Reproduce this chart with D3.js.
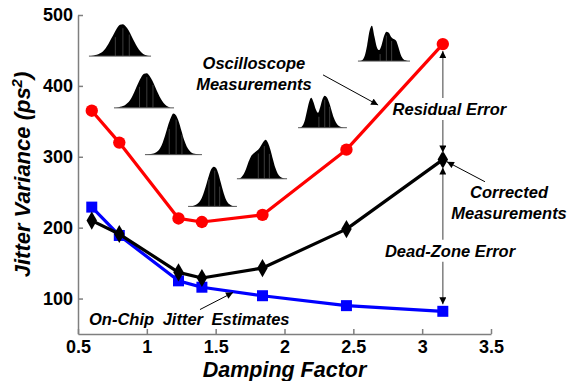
<!DOCTYPE html>
<html>
<head>
<meta charset="utf-8">
<script src="https://cdn.jsdelivr.net/npm/d3@7"></script>
<style>
  html, body { margin: 0; padding: 0; background: #fff; }
  svg { display: block; font-family: "Liberation Sans", Arial, sans-serif; }
</style>
</head>
<body>
<div id="chart"></div>
<script>
// damping factor of each measured loop
const dampingFactor = [0.6, 0.8, 1.23, 1.4, 1.84, 2.45, 3.15];
// jitter variance (ps^2)
const scopeValues = [365, 320, 213, 208, 218, 310, 459];
const correctedValues = [210, 191, 137, 129, 143, 198, 296];
const onChipValues = [229, 189, 125, 116, 104, 90, 82];

const xTicks = [0.5, 1, 1.5, 2, 2.5, 3, 3.5];
const yTicks = [100, 200, 300, 400, 500];

// scope histogram shapes (relative bin heights), one per inset
const hist1 = [0, .02, .04, .08, .14, .24, .38, .55, .72, .88, .98, 1, .93, .8, .62, .44, .28, .15, .07, .03, 0];
const hist2 = [0, .02, .04, .07, .13, .22, .36, .54, .72, .88, .98, 1, .92, .78, .6, .42, .26, .14, .06, .02, 0];
const hist3 = [0, .01, .02, .04, .08, .16, .3, .5, .72, .9, 1, .95, .8, .58, .36, .2, .1, .04, .02, .01, 0];
const hist4 = [0, .01, .03, .06, .12, .22, .38, .58, .78, .94, 1, .97, .82, .6, .38, .2, .09, .04, .01, 0];
const hist5 = [0, .04, .12, .26, .44, .58, .65, .7, .75, .84, .94, 1, .92, .74, .5, .28, .13, .05, .02, 0];
const hist6 = [0, .05, .2, .5, .8, .94, .8, .58, .47, .65, .9, 1, .95, .78, .55, .32, .16, .07, .03, .01, 0];
const hist7 = [0, .03, .15, .45, .85, 1, .7, .4, .31, .45, .7, .83, .8, .68, .62, .58, .4, .18, .06, .02, 0];

const width = 570, height = 381;
const margin = { top: 15, right: 79, bottom: 47, left: 78 };

const svg = d3.select('#chart').append('svg')
    .attr('width', width)
    .attr('height', height);

svg.append('rect').attr('width', width).attr('height', height).attr('fill', '#fff');

const x = d3.scaleLinear().domain([0.5, 3.5]).range([margin.left, width - margin.right]);
const y = d3.scaleLinear().domain([50, 500]).range([height - margin.bottom, margin.top]);

const axisGray = '#7f7f7f';

// axes (ticks point inward)
const xAxis = svg.append('g')
    .attr('transform', 'translate(0,' + y(50) + ')')
    .call(d3.axisBottom(x).tickValues(xTicks).tickFormat(d3.format('')).tickSize(-5).tickSizeOuter(0).tickPadding(6));
const yAxis = svg.append('g')
    .attr('transform', 'translate(' + x(0.5) + ',0)')
    .call(d3.axisLeft(y).tickValues(yTicks).tickSize(-5).tickSizeOuter(0).tickPadding(5));

[xAxis, yAxis].forEach(a => {
    a.select('.domain').attr('stroke', axisGray).attr('stroke-width', 1.5);
    a.selectAll('.tick line').attr('stroke', axisGray).attr('stroke-width', 1.5);
    a.selectAll('.tick text')
        .attr('fill', '#000')
        .style('font-size', '18px')
        .style('font-weight', 'bold')
        .style('font-family', '"Liberation Sans", Arial, sans-serif');
});

// axis titles
svg.append('text')
    .attr('x', x(2))
    .attr('y', 376.5)
    .attr('text-anchor', 'middle')
    .style('font-size', '21.5px')
    .style('font-weight', 'bold')
    .style('font-style', 'italic')
    .text('Damping Factor');

const yTitle = svg.append('text')
    .attr('transform', 'translate(30,' + y(275) + ') rotate(-90)')
    .attr('text-anchor', 'middle')
    .style('font-size', '22px')
    .style('font-weight', 'bold')
    .style('font-style', 'italic');
yTitle.append('tspan').text('Jitter Variance (ps');
yTitle.append('tspan').attr('dy', -8).style('font-size', '15px').text('2');
yTitle.append('tspan').attr('dy', 8).text(')');

// histogram insets: [x start, x end, baseline, top] in data units
const insets = [
    { shape: hist1, box: [0.594, 1.016, 442, 487] },
    { shape: hist2, box: [0.776, 1.183, 369, 418] },
    { shape: hist3, box: [1.001, 1.386, 303, 361] },
    { shape: hist4, box: [1.314, 1.640, 230, 286] },
    { shape: hist5, box: [1.669, 2.004, 269, 324] },
    { shape: hist6, box: [2.113, 2.439, 341, 386] },
    { shape: hist7, box: [2.548, 2.897, 435, 485] }
];

insets.forEach(h => {
    const [x0, x1, b, t] = h.box;
    const hx = d3.scaleLinear().domain([0, h.shape.length - 1]).range([x(x0), x(x1)]);
    const hy = d3.scaleLinear().domain([0, 1]).range([y(b), y(t)]);
    const g = svg.append('g');
    g.append('path')
        .datum(h.shape)
        .attr('fill', '#000')
        .attr('d', d3.area().x((d, i) => hx(i)).y0(y(b)).y1(d => hy(d)).curve(d3.curveMonotoneX));
    // faint bin separators
    [0.42, 0.55, 0.66].forEach(f => {
        const i = f * (h.shape.length - 1);
        g.append('line')
            .attr('x1', hx(i)).attr('x2', hx(i))
            .attr('y1', y(b)).attr('y2', hy(h.shape[Math.round(i)]) + 4)
            .attr('stroke', '#666').attr('stroke-width', 0.6);
    });
    g.append('line')
        .attr('x1', hx(0) - 2).attr('x2', hx(h.shape.length - 1) + 2)
        .attr('y1', y(b)).attr('y2', y(b))
        .attr('stroke', '#555').attr('stroke-width', 1);
});

// arrow markers
const defs = svg.append('defs');
defs.append('marker')
    .attr('id', 'head')
    .attr('viewBox', '0 0 10 10')
    .attr('refX', 10).attr('refY', 5)
    .attr('markerWidth', 9).attr('markerHeight', 7)
    .attr('markerUnits', 'userSpaceOnUse')
    .attr('orient', 'auto-start-reverse')
    .append('path').attr('d', 'M0,0L10,5L0,10z').attr('fill', '#000');

// series
const series = [
    { values: scopeValues, color: '#ff0000', symbol: 'circle' },
    { values: correctedValues, color: '#000000', symbol: 'diamond' },
    { values: onChipValues, color: '#0000ff', symbol: 'square' }
];

const line = d3.line().x(d => x(d[0])).y(d => y(d[1]));

// draw blue, red then black on top
[series[2], series[0], series[1]].forEach(s => {
    const pts = dampingFactor.map((d, i) => [d, s.values[i]]);
    svg.append('path')
        .datum(pts)
        .attr('fill', 'none')
        .attr('stroke', s.color)
        .attr('stroke-width', 3.2)
        .attr('stroke-linejoin', 'round')
        .attr('d', line);
    const sym = s.symbol === 'circle' ? d3.symbol(d3.symbolCircle, 120)
        : s.symbol === 'diamond' ? d3.symbol(d3.symbolDiamond, 95)
        : d3.symbol(d3.symbolSquare, 121);
    svg.append('g').selectAll('path')
        .data(pts)
        .enter().append('path')
        .attr('transform', d => 'translate(' + x(d[0]) + ',' + y(d[1]) + ')')
        .attr('d', sym)
        .attr('fill', s.color);
});

// annotation text
function note(lines, xv, yv, anchor) {
    const t = svg.append('text')
        .attr('text-anchor', anchor || 'middle')
        .style('font-size', '16.5px')
        .style('font-weight', 'bold')
        .style('font-style', 'italic');
    lines.forEach((l, i) => {
        t.append('tspan').attr('x', x(xv)).attr('y', y(yv) + i * 21).text(l);
    });
    return t;
}

note(['Oscilloscope', 'Measurements'], 1.778, 424);
const residual = note(['Residual Error'], 3.198, 359);
note(['Corrected', 'Measurements'], 3.631, 242);
const deadZone = note(['Dead-Zone Error'], 3.202, 159);
note(['On-Chip  Jitter  Estimates'], 0.58, 62, 'start').style('word-spacing', '4px');

// pointer arrows
function pointer(x1, y1, x2, y2) {
    svg.append('line')
        .attr('x1', x(x1)).attr('y1', y(y1))
        .attr('x2', x(x2)).attr('y2', y(y2))
        .attr('stroke', '#000').attr('stroke-width', 1)
        .attr('marker-end', 'url(#head)');
}
pointer(2.280, 415.5, 2.680, 373);
pointer(3.456, 264.8, 3.180, 293);
pointer(1.386, 84.5, 1.626, 108.5);

// vertical error arrows at the last damping factor, broken around labels
const last = dampingFactor.length - 1;
const ax = x(dampingFactor[last]);
function errorArrow(topPx, bottomPx, label) {
    const bb = label.node().getBBox();
    const gapTop = bb.y - 2, gapBottom = bb.y + bb.height + 2;
    svg.append('line')
        .attr('x1', ax).attr('x2', ax)
        .attr('y1', gapTop).attr('y2', topPx)
        .attr('stroke', axisGray).attr('stroke-width', 1.5)
        .attr('marker-end', 'url(#head)');
    svg.append('line')
        .attr('x1', ax).attr('x2', ax)
        .attr('y1', gapBottom).attr('y2', bottomPx)
        .attr('stroke', axisGray).attr('stroke-width', 1.5)
        .attr('marker-end', 'url(#head)');
}
errorArrow(y(scopeValues[last]) + 7, y(correctedValues[last]) - 7, residual);
errorArrow(y(correctedValues[last]) + 8, y(onChipValues[last]) - 7, deadZone);
</script>
</body>
</html>
